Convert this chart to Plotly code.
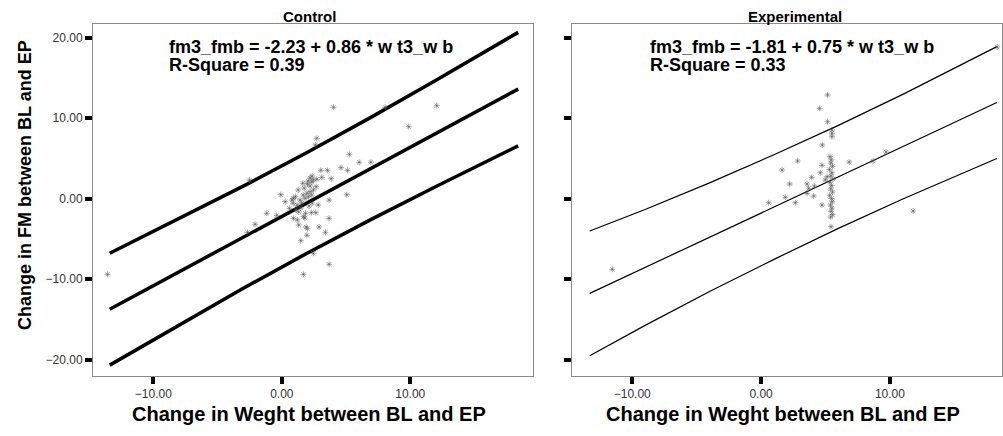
import plotly.graph_objects as go

# ---------------- data ----------------
ctrl_x = [-13.57, 4.02, 8.04, 12.06, 9.88, 2.72, 2.61, -2.52, 5.26, 6.02, 6.93, 4.61, 5.11, 3.04, 3.55,
          3.84, 2.20, 2.46, 2.72, 3.11, 1.63, 1.99, 2.33, 2.67, -0.08, 5.06, 3.68, 0.90, 1.06, 1.66,
          1.95, 2.20, 2.46, 2.33, 2.07, 1.81, 0.59, -1.17, -0.39, 1.32, 1.84, 2.30, 2.65, 3.68, 0.90,
          1.21, 1.68, 1.79, -2.08, 1.32, 1.89, 1.99, 2.90, 3.39, -2.68, 1.95, 1.48, 2.46, 3.68, 1.68,
          0.78, 1.42, 1.56, 1.19, 0.26, 2.12, 1.27, 1.74, 2.36, 0.88, 1.48, 1.11, 2.83, 2.20, 2.05, 2.36]
ctrl_y = [-9.42, 11.33, 11.33, 11.53, 8.92, 7.48, 6.65, 2.30, 5.49, 4.50, 4.50, 3.83, 3.50, 3.50, 3.50,
          2.46, 2.55, 2.30, 2.39, 2.63, 1.89, 1.80, 2.05, 1.47, 0.47, 0.47, -0.19, 0.02, 0.22, 0.43,
          0.65, 0.84, 1.06, 0.43, 0.22, 0.02, -1.22, -1.84, -2.09, -1.68, -1.84, -1.76, -1.76, -2.46, -2.46,
          -2.67, -2.26, -2.42, -3.20, -3.29, -3.54, -3.75, -3.54, -4.20, -4.20, -4.57, -5.24, -6.81, -8.17, -9.42,
          -0.19, -0.19, -0.56, -0.81, -0.40, -0.93, 1.06, 1.30, -0.56, -0.60, -1.18, -1.43, -0.81, 1.55, 2.17, 2.80]

exp_x = [-11.55, 5.16, 4.54, 5.16, 5.50, 5.50, 5.50, 4.75, 2.84, 1.63, 2.22, 3.92, 3.57, 3.69, 3.57,
         4.13, 4.08, 4.60, 4.73, 1.88, 0.59, 2.66, 4.73, 5.43, 4.98, 5.12,
         5.35, 5.45, 5.40, 5.55, 5.30, 5.50, 5.42, 5.58, 5.35, 5.48, 5.40, 5.55, 5.32, 5.46, 5.52,
         5.38, 5.50, 5.44, 5.56, 5.40,
         6.84, 8.70, 9.70, 11.80, 18.33]
exp_y = [-8.80, 12.86, 11.20, 9.54, 8.51, 8.10, 7.68, 6.65, 4.66, 3.54, 1.80, 2.63, 1.80, 1.27, 0.65,
         1.55, 0.31, 3.20, 4.12, 0.15, -0.52, -0.52, -0.81, -3.50, 2.30, 2.71,
         5.20, 4.80, 4.40, 4.00, 3.60, 3.20, 2.80, 2.40, 2.00, 1.60, 1.20, 0.80, 0.40, 0.00, -0.40,
         -0.80, -1.20, -1.60, -2.00, -2.30,
         4.53, 4.66, 5.78, -1.55, 18.82]

ctrl_line_x = [-13.4, -8, -3, 2, 7, 12, 18.4]
ctrl_fit = [-13.75, -9.11, -4.81, -0.51, 3.79, 8.09, 13.59]
ctrl_upper = [-6.80, -2.51, 1.54, 5.74, 10.14, 14.69, 20.64]
ctrl_lower = [-20.70, -15.71, -11.16, -6.76, -2.56, 1.49, 6.54]

exp_line_x = [-13.3, -9, -4, 1, 6, 11, 18.3]
exp_fit = [-11.79, -8.56, -4.81, -1.06, 2.69, 6.44, 11.92]
exp_upper = [-4.04, -1.36, 1.94, 5.44, 9.09, 12.94, 18.87]
exp_lower = [-19.54, -15.76, -11.56, -7.56, -3.71, -0.06, 4.97]

panel_titles = ["Control", "Experimental"]
equations = ["fm3_fmb = -2.23 + 0.86 * w t3_w b", "fm3_fmb = -1.81 + 0.75 * w t3_w b"]
rsquares = ["R-Square = 0.39", "R-Square = 0.33"]
x_title = "Change in Weght between BL and EP"
y_title = "Change in FM between BL and EP"
x_ticks = [-10, 0, 10]
y_ticks = [-20, -10, 0, 10, 20]

# ---------------- figure ----------------
FONT = "Liberation Sans, Arial, sans-serif"
fig = go.Figure()

marker = dict(symbol="asterisk-open", size=5, color="rgba(90,90,90,0.55)",
              line=dict(width=1, color="rgba(90,90,90,0.55)"))

for xs, fit, up, lo, lw, xa, ya in [
    (ctrl_line_x, ctrl_fit, ctrl_upper, ctrl_lower, 3.5, "x", "y"),
    (exp_line_x, exp_fit, exp_upper, exp_lower, 1.2, "x2", "y2"),
]:
    for ys in (up, fit, lo):
        fig.add_trace(go.Scatter(x=xs, y=ys, mode="lines", line=dict(color="black", width=lw),
                                 xaxis=xa, yaxis=ya, showlegend=False, hoverinfo="skip"))

fig.add_trace(go.Scatter(x=ctrl_x, y=ctrl_y, mode="markers", marker=marker,
                         xaxis="x", yaxis="y", showlegend=False))
fig.add_trace(go.Scatter(x=exp_x, y=exp_y, mode="markers", marker=marker,
                         xaxis="x2", yaxis="y2", showlegend=False))

axis_common = dict(showline=True, mirror=True, linecolor="#8a8a8a", linewidth=1,
                   showgrid=False, zeroline=False, ticks="outside", ticklen=7, tickwidth=3.5,
                   tickcolor="black", tickformat=".2f",
                   tickfont=dict(family=FONT, size=12, color="#333333"))

fig.update_layout(
    width=1003, height=436,
    margin=dict(l=93, r=1, t=24, b=60),
    paper_bgcolor="white", plot_bgcolor="white",
    xaxis=dict(domain=[0, 0.484], range=[-14.7, 19.55], tickvals=x_ticks, anchor="y", **axis_common),
    xaxis2=dict(domain=[0.5266, 1.0], range=[-14.7, 18.7], tickvals=x_ticks, anchor="y2", **axis_common),
    yaxis=dict(domain=[0, 1], range=[-22.05, 21.68], tickvals=y_ticks, anchor="x", **axis_common),
    yaxis2=dict(domain=[0, 1], range=[-22.05, 21.68], tickvals=y_ticks, anchor="x2",
                showticklabels=False, **axis_common),
)

ann = []
for cx, t in zip([0.2387, 0.7723], panel_titles):
    ann.append(dict(x=cx, y=1.0227, xref="paper", yref="paper", text=f"<b>{t}</b>",
                    showarrow=False, xanchor="center", yanchor="middle",
                    font=dict(family=FONT, size=15, color="black")))
for lx, eq, rs in zip([0.0814, 0.6106], equations, rsquares):
    ann.append(dict(x=lx, y=0.9347, xref="paper", yref="paper", text=f"<b>{eq}</b>",
                    showarrow=False, xanchor="left", yanchor="middle",
                    font=dict(family=FONT, size=18, color="black")))
    ann.append(dict(x=lx, y=0.8835, xref="paper", yref="paper", text=f"<b>{rs}</b>",
                    showarrow=False, xanchor="left", yanchor="middle",
                    font=dict(family=FONT, size=18, color="black")))
for cx in [0.2376, 0.759]:
    ann.append(dict(x=cx, y=-0.108, xref="paper", yref="paper", text=f"<b>{x_title}</b>",
                    showarrow=False, xanchor="center", yanchor="middle",
                    font=dict(family=FONT, size=20, color="black")))
ann.append(dict(x=-0.0748, y=0.5426, xref="paper", yref="paper", text=f"<b>{y_title}</b>",
                showarrow=False, xanchor="center", yanchor="middle", textangle=-90,
                font=dict(family=FONT, size=18, color="black")))
fig.update_layout(annotations=ann)

fig.write_html("out.html", config={"displayModeBar": False},
               post_script="document.body.style.margin='0px';")
